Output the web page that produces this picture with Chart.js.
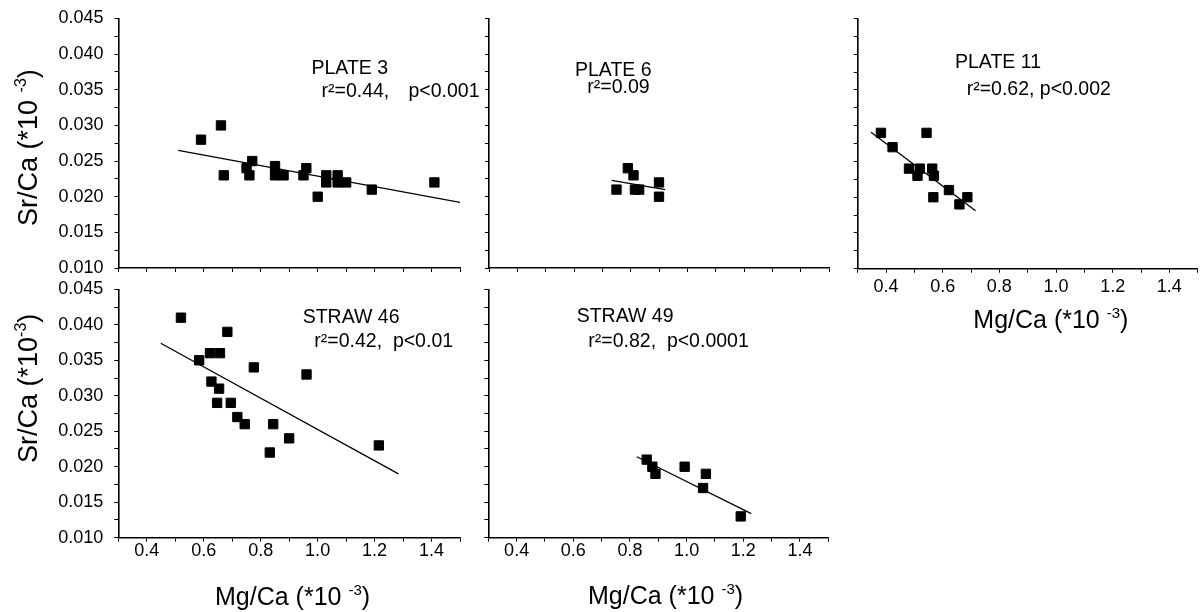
<!DOCTYPE html>
<html>
<head>
<meta charset="utf-8">
<script src="https://cdn.jsdelivr.net/npm/chart.js@4.4.1/dist/chart.umd.min.js"></script>
<style>
  html, body { margin: 0; padding: 0; background: #fff; }
  #wrap { position: relative; width: 1201px; height: 612px; overflow: hidden; }
  #wrap canvas { position: absolute; left: 0; top: 0; }
</style>
</head>
<body>
<div id="wrap">
  <canvas id="plate3" width="1201" height="612"></canvas>
  <canvas id="plate6" width="1201" height="612"></canvas>
  <canvas id="plate11" width="1201" height="612"></canvas>
  <canvas id="straw46" width="1201" height="612"></canvas>
  <canvas id="straw49" width="1201" height="612"></canvas>
</div>
<script>
// axis ticks (shared by every panel)
const xTickValues = [0.3, 0.4, 0.5, 0.6, 0.7, 0.8, 0.9, 1.0, 1.1, 1.2, 1.3, 1.4, 1.5];
const xTickText = ["", "0.4", "", "0.6", "", "0.8", "", "1.0", "", "1.2", "", "1.4", ""];
const yTickValues = [0.010, 0.0125, 0.015, 0.0175, 0.020, 0.0225, 0.025, 0.0275, 0.030, 0.0325, 0.035, 0.0375, 0.040, 0.0425, 0.045];
const yTickText = ["0.010", "", "0.015", "", "0.020", "", "0.025", "", "0.030", "", "0.035", "", "0.040", "", "0.045"];

// PLATE 3
const plate3Mg = [0.59, 0.66, 0.67, 0.75, 0.76, 0.77, 0.85, 0.85, 0.88, 0.95, 0.96, 1.00, 1.03, 1.03, 1.07, 1.07, 1.10, 1.19, 1.41];
const plate3Sr = [0.028, 0.030, 0.023, 0.024, 0.023, 0.025, 0.0243, 0.023, 0.023, 0.023, 0.024, 0.020, 0.023, 0.022, 0.023, 0.022, 0.022, 0.021, 0.022];
const plate3FitMg = [0.51, 1.50];
const plate3FitSr = [0.0265, 0.0192];

// PLATE 6
const plate6Mg = [0.75, 0.79, 0.81, 0.815, 0.83, 0.90, 0.90];
const plate6Sr = [0.021, 0.024, 0.023, 0.021, 0.021, 0.020, 0.022];
const plate6FitMg = [0.733, 0.922];
const plate6FitSr = [0.0223, 0.0210];

// PLATE 11
const plate11Mg = [0.382, 0.423, 0.481, 0.511, 0.519, 0.543, 0.563, 0.569, 0.567, 0.622, 0.659, 0.687];
const plate11Sr = [0.029, 0.027, 0.024, 0.023, 0.024, 0.029, 0.024, 0.023, 0.020, 0.021, 0.019, 0.020];
const plate11FitMg = [0.347, 0.716];
const plate11FitSr = [0.0291, 0.0181];

// STRAW 46
const straw46Mg = [0.52, 0.584, 0.622, 0.657, 0.683, 0.627, 0.654, 0.647, 0.695, 0.718, 0.744, 0.776, 0.844, 0.832, 0.90, 0.961, 1.215];
const straw46Sr = [0.041, 0.035, 0.036, 0.036, 0.039, 0.032, 0.031, 0.029, 0.029, 0.027, 0.026, 0.034, 0.026, 0.022, 0.024, 0.033, 0.023];
const straw46FitMg = [0.449, 1.284];
const straw46FitSr = [0.0374, 0.0190];

// STRAW 49
const straw49Mg = [0.859, 0.879, 0.89, 0.993, 1.068, 1.058, 1.191];
const straw49Sr = [0.021, 0.020, 0.019, 0.020, 0.019, 0.017, 0.013];
const straw49FitMg = [0.824, 1.228];
const straw49FitSr = [0.0214, 0.0134];

const FONT = '"Liberation Sans", Arial, Helvetica, sans-serif';
const W = 1201;
const H = 612;
const Y_AXIS_W = 60;
const X_AXIS_H = 40;

const toPoints = (xs, ys) => xs.map((x, i) => ({ x, y: ys[i] }));

// text with a raised exponent: base + power + ")"
function drawPower(ctx, base, power, x, y, size) {
  const sup = Math.round(size * 0.6);
  ctx.font = `${size}px ${FONT}`;
  ctx.fillText(base, x, y);
  let w = ctx.measureText(base).width;
  ctx.font = `${sup}px ${FONT}`;
  ctx.fillText(power, x + w, y - size * 0.4);
  w += ctx.measureText(power).width;
  ctx.font = `${size}px ${FONT}`;
  ctx.fillText(")", x + w, y);
}

const panelText = {
  id: "panelText",
  afterDraw(chart, args, opts) {
    const { ctx, chartArea: a } = chart;
    ctx.save();
    ctx.fillStyle = "#000";
    ctx.textBaseline = "alphabetic";
    ctx.textAlign = "left";
    (opts.notes || []).forEach((n) => {
      ctx.font = `19.5px ${FONT}`;
      ctx.fillText(n.text, a.left + n.dx, a.top + n.dy);
    });
    if (opts.xTitle) {
      drawPower(ctx, opts.xTitle.text, "-3", a.left + opts.xTitle.dx, a.bottom + opts.xTitle.dy, 25);
    }
    if (opts.yTitle) {
      ctx.translate(opts.yTitle.x, opts.yTitle.y);
      ctx.rotate(-Math.PI / 2);
      drawPower(ctx, opts.yTitle.text, "-3", 0, 0, 27);
    }
    ctx.restore();
  },
};

function makeChart(id, cfg) {
  const area = cfg.area; // [left, top, right, bottom]
  return new Chart(document.getElementById(id), {
    type: "scatter",
    data: {
      datasets: [
        {
          data: toPoints(cfg.mg, cfg.sr),
          pointStyle: "rect",
          pointRadius: 6.6,
          backgroundColor: "#000",
          borderColor: "#000",
          borderWidth: 1,
        },
        {
          type: "line",
          data: toPoints(cfg.fitMg, cfg.fitSr),
          borderColor: "#000",
          borderWidth: 1.3,
          pointRadius: 0,
          fill: false,
        },
      ],
    },
    options: {
      responsive: false,
      animation: false,
      devicePixelRatio: 1,
      layout: {
        autoPadding: false,
        padding: {
          left: area[0] - Y_AXIS_W,
          top: area[1],
          right: W - area[2],
          bottom: H - area[3] - X_AXIS_H,
        },
      },
      plugins: {
        legend: { display: false },
        tooltip: { enabled: false },
        panelText: cfg.text,
      },
      scales: {
        x: {
          type: "linear",
          min: 0.3,
          max: 1.5,
          afterBuildTicks: (s) => { s.ticks = xTickValues.map((v) => ({ value: v })); },
          afterFit: (s) => {
            s.height = X_AXIS_H;
            s.paddingLeft = s.paddingRight = s.paddingTop = s.paddingBottom = 0;
          },
          ticks: {
            autoSkip: false,
            maxRotation: 0,
            padding: cfg.xPad,
            color: "#000",
            font: { family: FONT, size: 18 },
            callback: (v, i) => (cfg.xLabels ? xTickText[i] : ""),
          },
          grid: { drawOnChartArea: false, drawTicks: true, tickLength: 4, color: "#000", lineWidth: 1 },
          border: { display: true, color: "#000", width: 1.6 },
        },
        y: {
          type: "linear",
          min: 0.010,
          max: 0.045,
          afterBuildTicks: (s) => { s.ticks = yTickValues.map((v) => ({ value: v })); },
          afterFit: (s) => {
            s.width = Y_AXIS_W;
            s.paddingLeft = s.paddingRight = s.paddingTop = s.paddingBottom = 0;
          },
          ticks: {
            autoSkip: false,
            padding: 11,
            color: "#000",
            font: { family: FONT, size: 18 },
            callback: (v, i) => (cfg.yLabels ? yTickText[i] : ""),
          },
          grid: { drawOnChartArea: false, drawTicks: true, tickLength: 4, color: "#000", lineWidth: 1 },
          border: { display: true, color: "#000", width: 1.6 },
        },
      },
    },
    plugins: [panelText],
  });
}

makeChart("plate3", {
  area: [118.5, 18.5, 460, 268],
  mg: plate3Mg, sr: plate3Sr, fitMg: plate3FitMg, fitSr: plate3FitSr,
  xLabels: false, yLabels: true, xPad: 0,
  text: {
    notes: [
      { text: "PLATE 3", dx: 193, dy: 55 },
      { text: "r²=0.44,", dx: 203, dy: 78 },
      { text: "p<0.001", dx: 290, dy: 78 },
    ],
    yTitle: { text: "Sr/Ca (*10 ", x: 37, y: 226 },
  },
});

makeChart("plate6", {
  area: [489, 18.5, 829, 268],
  mg: plate6Mg, sr: plate6Sr, fitMg: plate6FitMg, fitSr: plate6FitSr,
  xLabels: false, yLabels: false, xPad: 0,
  text: {
    notes: [
      { text: "PLATE 6", dx: 86, dy: 57.5 },
      { text: "r²=0.09", dx: 98.3, dy: 74.8 },
    ],
  },
});

makeChart("plate11", {
  area: [857.7, 18.5, 1197.7, 268.7],
  mg: plate11Mg, sr: plate11Sr, fitMg: plate11FitMg, fitSr: plate11FitSr,
  xLabels: true, yLabels: false, xPad: 4,
  text: {
    notes: [
      { text: "PLATE 11", dx: 97.3, dy: 49.8 },
      { text: "r²=0.62, p<0.002", dx: 109, dy: 76.5 },
    ],
    xTitle: { text: "Mg/Ca (*10 ", dx: 115.6, dy: 59.6 },
  },
});

makeChart("straw46", {
  area: [118.3, 289.3, 460, 537.7],
  mg: straw46Mg, sr: straw46Sr, fitMg: straw46FitMg, fitSr: straw46FitSr,
  xLabels: true, yLabels: true, xPad: -1,
  text: {
    notes: [
      { text: "STRAW 46", dx: 184.4, dy: 33.4 },
      { text: "r²=0.42,  p<0.01", dx: 196, dy: 58 },
    ],
    xTitle: { text: "Mg/Ca (*10 ", dx: 96.7, dy: 66.8 },
    yTitle: { text: "Sr/Ca (*10", x: 37, y: 463 },
  },
});

makeChart("straw49", {
  area: [488.3, 289.3, 828.3, 537.7],
  mg: straw49Mg, sr: straw49Sr, fitMg: straw49FitMg, fitSr: straw49FitSr,
  xLabels: true, yLabels: false, xPad: -1,
  text: {
    notes: [
      { text: "STRAW 49", dx: 88.4, dy: 32.4 },
      { text: "r²=0.82,  p<0.0001", dx: 100, dy: 57.4 },
    ],
    xTitle: { text: "Mg/Ca (*10 ", dx: 99.7, dy: 65.8 },
  },
});
</script>
</body>
</html>
